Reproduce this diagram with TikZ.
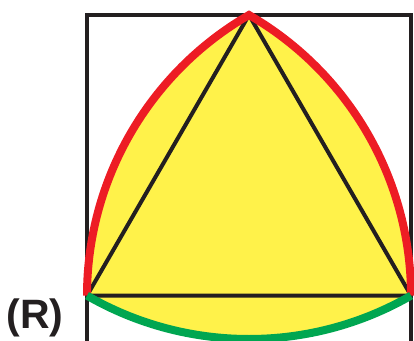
\documentclass[tikz,border=0pt]{standalone}
\usepackage{fontspec}
\setmainfont{Liberation Sans}
\usepackage{xcolor}
\usetikzlibrary{calc}

\definecolor{nero}{HTML}{231F20}
\definecolor{rosso}{HTML}{ED1C24}
\definecolor{verde}{HTML}{00A651}
\definecolor{giallo}{HTML}{FFF24A}

\begin{document}
\begin{tikzpicture}[x=1pt, y=1pt, line join=miter]

\useasboundingbox (0,0) rectangle (414,340);

% Lato del triangolo
\def\lato{324}

% Vertici
\coordinate (B) at (87,44.4);
\coordinate (C) at (411,44.4);
\coordinate (A) at (249,325);

% Quadrato (tagliato in basso)
\draw[nero, line width=4.5pt] (87,-6) rectangle (411,325);

% Triangolo di Reuleaux (riempimento)
\fill[giallo] (B) arc[start angle=180, end angle=120, radius=\lato]
    arc[start angle=60, end angle=0, radius=\lato]
    arc[start angle=300, end angle=240, radius=\lato] -- cycle;

% Triangolo equilatero
\draw[nero, line width=4pt, line join=round] (A) -- (B) -- (C) -- cycle;

% Archi
\draw[rosso, line width=8pt] (B) arc[start angle=180, end angle=120, radius=\lato]
    arc[start angle=60, end angle=0, radius=\lato];
\draw[verde, line width=8pt] (C) arc[start angle=300, end angle=240, radius=\lato];

% Etichetta
\node[inner sep=0pt, nero, font=\bfseries\fontsize{41}{41}\selectfont] (lbl) at (35,22) {(R)};

\end{tikzpicture}
\end{document}
